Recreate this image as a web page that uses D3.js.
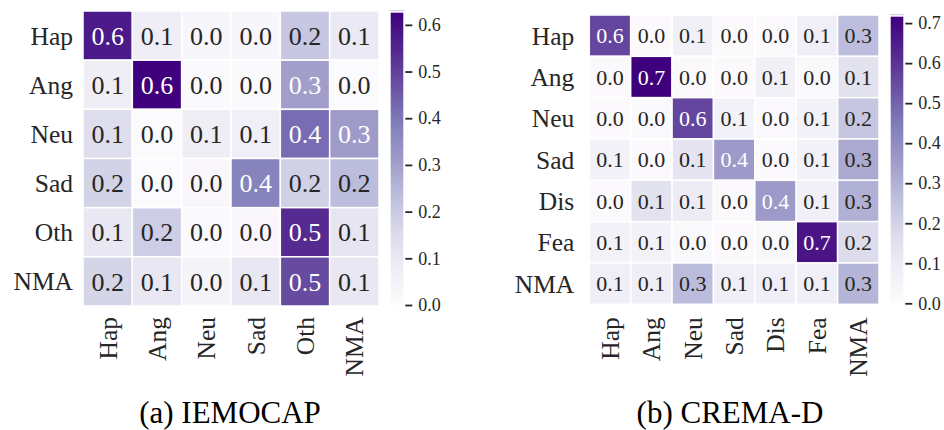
<!DOCTYPE html>
<html>
<head>
<meta charset="utf-8">
<script src="https://cdn.jsdelivr.net/npm/d3@7"></script>
<style>
  html, body { margin: 0; padding: 0; background: #fff; }
</style>
</head>
<body>
<svg id="chart" width="944" height="430"></svg>
<script>
// --- data -----------------------------------------------------------
var iemocapLabels = ["Hap", "Ang", "Neu", "Sad", "Oth", "NMA"];
var iemocapValues = [
  [0.576, 0.080, 0.030, 0.030, 0.207, 0.095],
  [0.075, 0.626, 0.010, 0.010, 0.305, 0.008],
  [0.140, 0.005, 0.075, 0.070, 0.420, 0.310],
  [0.175, 0.005, 0.020, 0.376, 0.180, 0.235],
  [0.100, 0.190, 0.010, 0.020, 0.540, 0.110],
  [0.170, 0.100, 0.040, 0.100, 0.480, 0.100]
];
var iemocapTicks = [0.0, 0.1, 0.2, 0.3, 0.4, 0.5, 0.6];

var cremaLabels = ["Hap", "Ang", "Neu", "Sad", "Dis", "Fea", "NMA"];
var cremaValues = [
  [0.560, 0.010, 0.070, 0.010, 0.010, 0.080, 0.265],
  [0.010, 0.716, 0.010, 0.010, 0.070, 0.020, 0.140],
  [0.010, 0.015, 0.560, 0.060, 0.010, 0.060, 0.240],
  [0.060, 0.010, 0.130, 0.360, 0.010, 0.060, 0.320],
  [0.010, 0.140, 0.100, 0.010, 0.360, 0.070, 0.300],
  [0.060, 0.060, 0.020, 0.010, 0.020, 0.670, 0.170],
  [0.080, 0.090, 0.270, 0.080, 0.080, 0.080, 0.290]
];
var cremaTicks = [0.0, 0.1, 0.2, 0.3, 0.4, 0.5, 0.6, 0.7];

// matplotlib "Purples"
var purples = ["#fcfbfd", "#efedf5", "#dadaeb", "#bcbddc", "#9e9ac8",
               "#807dba", "#6a51a3", "#54278f", "#3f007d"];

var FONT = "'Liberation Serif', 'Times New Roman', serif";
var svg = d3.select("#chart");
var defs = svg.append("defs");

// seaborn picks text colour from cell luminance
function lum(c) {
  var rgb = d3.rgb(c);
  function ch(v) { v /= 255; return v <= 0.03928 ? v / 12.92 : Math.pow((v + 0.055) / 1.055, 2.4); }
  return 0.2126 * ch(rgb.r) + 0.7152 * ch(rgb.g) + 0.0722 * ch(rgb.b);
}

function heatmap(opt) {
  var labels = opt.labels, vals = opt.values;
  var vmax = d3.max(vals, function(r) { return d3.max(r); });
  var cmap = d3.scaleLinear()
    .domain(purples.map(function(_, i) { return vmax * i / (purples.length - 1); }))
    .range(purples).clamp(true);

  var x = d3.scaleBand().domain(labels).range([opt.x0, opt.x0 + opt.w]);
  var y = d3.scaleBand().domain(labels).range([opt.y0, opt.y0 + opt.h]);

  var g = svg.append("g");
  var cells = [];
  vals.forEach(function(row, i) {
    row.forEach(function(v, j) { cells.push({ r: labels[i], c: labels[j], v: v }); });
  });

  g.selectAll("rect.cell").data(cells).enter().append("rect")
    .attr("class", "cell")
    .attr("x", function(d) { return x(d.c); })
    .attr("y", function(d) { return y(d.r); })
    .attr("width", x.bandwidth())
    .attr("height", y.bandwidth())
    .attr("fill", function(d) { return cmap(d.v); })
    .attr("stroke", "#fff")
    .attr("stroke-width", 1.5);

  g.selectAll("text.ann").data(cells).enter().append("text")
    .attr("class", "ann")
    .attr("x", function(d) { return x(d.c) + x.bandwidth() / 2; })
    .attr("y", function(d) { return y(d.r) + y.bandwidth() / 2; })
    .attr("dy", "0.35em")
    .attr("text-anchor", "middle")
    .style("font-family", FONT)
    .style("font-size", opt.annSize + "px")
    .attr("fill", function(d) { return lum(cmap(d.v)) > 0.408 ? "#262626" : "#ffffff"; })
    .text(function(d) { return d.v.toFixed(1); });

  // y tick labels
  g.selectAll("text.ylab").data(labels).enter().append("text")
    .attr("x", opt.x0 - opt.yPad)
    .attr("y", function(d) { return y(d) + y.bandwidth() / 2; })
    .attr("dy", "0.35em")
    .attr("text-anchor", "end")
    .style("font-family", FONT)
    .style("font-size", "25.5px")
    .attr("fill", "#262626")
    .text(function(d) { return d; });

  // x tick labels, rotated
  g.selectAll("text.xlab").data(labels).enter().append("text")
    .attr("transform", function(d) {
      return "translate(" + (x(d) + x.bandwidth() / 2) + "," + (opt.y0 + opt.h + opt.xPad) + ") rotate(-90)";
    })
    .attr("dy", "0.35em")
    .attr("text-anchor", "end")
    .style("font-family", FONT)
    .style("font-size", "25.5px")
    .attr("fill", "#262626")
    .text(function(d) { return d; });

  // colorbar
  var gid = "grad" + opt.id;
  var grad = defs.append("linearGradient").attr("id", gid)
    .attr("x1", 0).attr("y1", 1).attr("x2", 0).attr("y2", 0);
  purples.forEach(function(c, i) {
    grad.append("stop").attr("offset", i / (purples.length - 1)).attr("stop-color", c);
  });
  var cb = opt.cb;
  var cy = d3.scaleLinear().domain([0, vmax]).range([cb.bottom, cb.top]);
  g.append("line")
    .attr("x1", cb.x - 1).attr("x2", cb.x + cb.w + 1)
    .attr("y1", cb.top - 2).attr("y2", cb.top - 2)
    .attr("stroke", "#c9c2e2").attr("stroke-width", 1);
  g.append("rect")
    .attr("x", cb.x).attr("y", cb.top)
    .attr("width", cb.w).attr("height", cb.bottom - cb.top)
    .attr("fill", "url(#" + gid + ")");
  var axis = d3.axisRight(cy).tickValues(opt.ticks).tickFormat(d3.format(".1f"))
    .tickSize(7).tickPadding(6);
  var ag = g.append("g").attr("transform", "translate(" + (cb.x + cb.w + 2) + ",0)").call(axis);
  ag.select(".domain").remove();
  ag.selectAll(".tick line").attr("stroke", "#262626").attr("stroke-width", 1.8);
  ag.selectAll(".tick text")
    .style("font-family", FONT)
    .style("font-size", "18px")
    .attr("fill", "#262626");

  // caption
  svg.append("text")
    .attr("x", opt.capX).attr("y", 423)
    .attr("text-anchor", "middle")
    .style("font-family", FONT)
    .style("font-size", "31px")
    .attr("fill", "#000")
    .text(opt.caption);
}

heatmap({
  id: "a", labels: iemocapLabels, values: iemocapValues, ticks: iemocapTicks,
  x0: 83, y0: 11, w: 296, h: 295, annSize: 26, yPad: 10, xPad: 11,
  cb: { x: 390.7, w: 12.6, top: 12.7, bottom: 305 },
  capX: 230, caption: "(a) IEMOCAP"
});

heatmap({
  id: "b", labels: cremaLabels, values: cremaValues, ticks: cremaTicks,
  x0: 589.3, y0: 15, w: 289.7, h: 289.3, annSize: 22, yPad: 15, xPad: 13,
  cb: { x: 890.7, w: 12.6, top: 16.7, bottom: 303.3 },
  capX: 730, caption: "(b) CREMA-D"
});
</script>
</body>
</html>
